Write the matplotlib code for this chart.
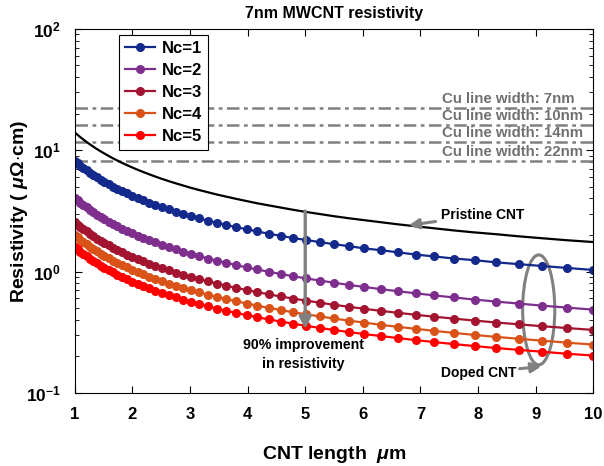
import math
import matplotlib
matplotlib.use("Agg")
import matplotlib.pyplot as plt
from matplotlib.patches import Ellipse
from matplotlib.ticker import LogLocator, FuncFormatter, NullFormatter

plt.rcParams["font.family"] = ["Liberation Sans", "DejaVu Sans"]
plt.rcParams["font.weight"] = "bold"
plt.rcParams["mathtext.fontset"] = "custom"
plt.rcParams["mathtext.rm"] = "Liberation Sans:bold"
plt.rcParams["mathtext.it"] = "Liberation Sans:italic:bold"
plt.rcParams["mathtext.bf"] = "Liberation Sans:bold"

# ---------- data ----------
cnt_length = [1.000, 1.047, 1.096, 1.148, 1.202, 1.259, 1.318, 1.380, 1.445, 1.514,
              1.585, 1.660, 1.738, 1.820, 1.905, 1.995, 2.089, 2.188, 2.291, 2.399,
              2.512, 2.630, 2.754, 2.884, 3.020, 3.162, 3.311, 3.467, 3.631, 3.802,
              3.981, 4.169, 4.365, 4.571, 4.786, 5.012, 5.248, 5.495, 5.754, 6.026,
              6.310, 6.607, 6.918, 7.244, 7.586, 7.943, 8.318, 8.710, 9.120, 9.550,
              10.000]

pristine = [13.99, 13.38, 12.79, 12.24, 11.70, 11.19, 10.71, 10.24, 9.80, 9.38,
            8.97, 8.58, 8.22, 7.86, 7.53, 7.21, 6.90, 6.61, 6.33, 6.06,
            5.80, 5.56, 5.33, 5.11, 4.89, 4.69, 4.50, 4.31, 4.14, 3.97,
            3.81, 3.65, 3.51, 3.37, 3.23, 3.10, 2.98, 2.86, 2.75, 2.65,
            2.55, 2.45, 2.36, 2.27, 2.18, 2.10, 2.03, 1.95, 1.88, 1.81,
            1.75]

nc1 = [8.16, 7.80, 7.46, 7.14, 6.83, 6.53, 6.25, 5.98, 5.72, 5.47,
       5.24, 5.01, 4.80, 4.59, 4.40, 4.21, 4.03, 3.86, 3.70, 3.54,
       3.39, 3.25, 3.12, 2.99, 2.86, 2.74, 2.63, 2.52, 2.42, 2.32,
       2.23, 2.14, 2.05, 1.97, 1.89, 1.82, 1.75, 1.68, 1.62, 1.55,
       1.50, 1.44, 1.38, 1.33, 1.28, 1.24, 1.19, 1.15, 1.11, 1.07,
       1.03]

nc2 = [4.04, 3.86, 3.69, 3.53, 3.38, 3.23, 3.09, 2.95, 2.82, 2.70,
       2.58, 2.47, 2.36, 2.26, 2.16, 2.07, 1.98, 1.90, 1.81, 1.74,
       1.66, 1.59, 1.52, 1.46, 1.40, 1.34, 1.28, 1.23, 1.18, 1.13,
       1.08, 1.04, 0.995, 0.954, 0.915, 0.878, 0.843, 0.809, 0.776, 0.746,
       0.716, 0.688, 0.661, 0.635, 0.611, 0.587, 0.565, 0.544, 0.523, 0.504,
       0.485]

nc3 = [2.55, 2.44, 2.34, 2.23, 2.14, 2.05, 1.96, 1.87, 1.79, 1.72,
       1.64, 1.57, 1.50, 1.44, 1.38, 1.32, 1.27, 1.21, 1.16, 1.11,
       1.07, 1.02, 0.980, 0.939, 0.901, 0.864, 0.829, 0.795, 0.763, 0.733,
       0.703, 0.676, 0.649, 0.623, 0.599, 0.576, 0.554, 0.532, 0.512, 0.493,
       0.474, 0.457, 0.440, 0.424, 0.409, 0.394, 0.380, 0.367, 0.354, 0.342,
       0.330]

nc4 = [2.01, 1.92, 1.83, 1.75, 1.68, 1.60, 1.53, 1.47, 1.40, 1.34,
       1.29, 1.23, 1.18, 1.13, 1.08, 1.03, 0.988, 0.946, 0.906, 0.868,
       0.831, 0.796, 0.763, 0.731, 0.701, 0.672, 0.644, 0.617, 0.592, 0.568,
       0.545, 0.523, 0.502, 0.482, 0.462, 0.444, 0.427, 0.410, 0.394, 0.379,
       0.364, 0.350, 0.337, 0.324, 0.312, 0.300, 0.289, 0.279, 0.269, 0.259,
       0.250]

nc5 = [1.60, 1.53, 1.46, 1.40, 1.34, 1.28, 1.22, 1.17, 1.12, 1.07,
       1.03, 0.982, 0.940, 0.900, 0.861, 0.825, 0.790, 0.756, 0.725, 0.694,
       0.665, 0.637, 0.611, 0.585, 0.561, 0.538, 0.516, 0.495, 0.475, 0.456,
       0.437, 0.420, 0.403, 0.387, 0.372, 0.357, 0.343, 0.330, 0.317, 0.305,
       0.294, 0.283, 0.272, 0.262, 0.252, 0.243, 0.234, 0.226, 0.218, 0.210,
       0.203]

series_labels = ["Nc=1", "Nc=2", "Nc=3", "Nc=4", "Nc=5"]
series_colors = ["#13298c", "#7e2f8e", "#a2142f", "#d95319", "#ff0000"]

cu_widths = ["7nm", "10nm", "14nm", "22nm"]
cu_resistivity = [22.3, 16.2, 11.7, 8.2]

# ---------- plot ----------
fig = plt.figure(figsize=(6.04, 4.66), dpi=100)
ax = fig.add_axes([0.124, 0.157, 0.858, 0.781])

gray = "#808080"
for val, w in zip(cu_resistivity, cu_widths):
    ax.plot([1, 10], [val, val], color=gray, lw=1.8, dashes=(5, 1.8, 1.5, 1.8))
    ax.text(7.38, val * 1.03, f"Cu line width: {w}", color="#707070",
            fontsize=10.8, fontweight="bold", ha="left", va="bottom")

ax.plot(cnt_length, pristine, color="black", lw=1.6)

for ys, lab, col in zip([nc1, nc2, nc3, nc4, nc5], series_labels, series_colors):
    ax.plot(cnt_length, ys, color=col, lw=1.6, marker="o", ms=5.5,
            markeredgecolor=col, markerfacecolor=col, label=lab)

ax.set_yscale("log")
ax.set_xlim(1, 10)
ax.set_ylim(0.1, 100)
ax.set_xticks(range(1, 11))
ax.yaxis.set_major_locator(LogLocator(base=10))
ax.yaxis.set_minor_locator(LogLocator(base=10, subs=range(2, 10)))
ax.yaxis.set_minor_formatter(NullFormatter())
ax.yaxis.set_major_formatter(
    FuncFormatter(lambda v, p: r"$\mathbf{10^{%d}}$" % round(math.log10(v))))
ax.tick_params(which="both", direction="in", top=True, right=True)
ax.tick_params(axis="x", labelsize=12, pad=10)
ax.tick_params(axis="y", labelsize=12.5, pad=10)
ax.tick_params(which="major", length=5)
ax.tick_params(which="minor", length=3)
for lbl in ax.get_xticklabels():
    lbl.set_fontweight("bold")

ax.set_xlabel(r"CNT length  $\mu$m", fontsize=14, fontweight="bold", labelpad=16)
ax.set_ylabel(r"Resistivity ( $\mu\Omega$$\cdot$cm)", fontsize=14, fontweight="bold",
              labelpad=-3)
ax.set_title("7nm MWCNT resistivity", fontsize=11.5, fontweight="bold", pad=8)

leg = ax.legend(loc="upper left", bbox_to_anchor=(0.086, 0.982), fontsize=12,
                frameon=True, fancybox=False, edgecolor="black", framealpha=1,
                handlelength=1.8, borderpad=0.35, labelspacing=0.42, handletextpad=0.4,
                borderaxespad=0)
leg.get_frame().set_linewidth(0.8)
for t in leg.get_texts():
    t.set_fontweight("bold")

# annotations
ax.annotate("", xy=(5, 0.335), xytext=(5, 3.15),
            arrowprops=dict(arrowstyle="-|>", color=gray, lw=2.4, mutation_scale=18,
                            shrinkA=0, shrinkB=0))
ax.text(4.97, 0.207, "90% improvement\nin resistivity", ha="center", va="center",
        fontsize=10.2, fontweight="bold", linespacing=1.45)

ax.annotate("Pristine CNT", xy=(6.8, 2.4), xytext=(7.36, 2.95),
            fontsize=10, fontweight="bold", va="center", ha="left",
            arrowprops=dict(arrowstyle="-|>", color=gray, lw=2.2, mutation_scale=15,
                            shrinkA=2, shrinkB=0))

ell = Ellipse((0.895, 0.228), 0.062, 0.302, transform=ax.transAxes,
              fill=False, edgecolor=gray, lw=2.2)
ax.add_patch(ell)
ax.annotate("Doped CNT", xy=(9.1, 0.165), xytext=(8.02, 0.146),
            fontsize=10, fontweight="bold", va="center", ha="center",
            arrowprops=dict(arrowstyle="-|>", color=gray, lw=2.2, mutation_scale=15,
                            shrinkA=32, shrinkB=0))

fig.savefig("out.png", dpi=100)
